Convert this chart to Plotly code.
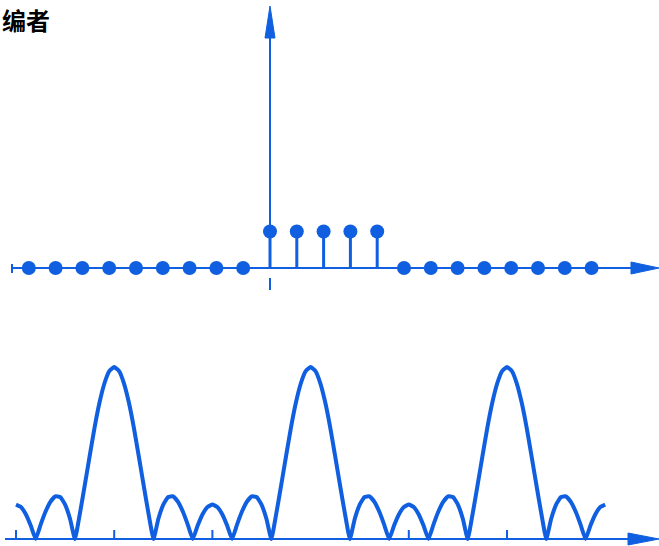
import plotly.graph_objects as go

# ---------------- data ----------------
# top: finite-length sequence x[n]
n_values = list(range(-9, 13))
x_values = [0, 0, 0, 0, 0, 0, 0, 0, 0,
            1, 1, 1, 1, 1,
            0, 0, 0, 0, 0, 0, 0, 0]

# bottom: magnitude spectrum |X(e^jw)| sampled every 0.05*pi, w given in units of pi
w_over_pi = [round(-3 + 0.05 * k, 2) for k in range(121)]
magnitude = [
    # -3 .. -2
    1.0, 0.93, 0.72, 0.39, 0, 0.41, 0.79, 1.08, 1.24, 1.22, 1.0, 0.59, 0, 0.73, 1.56, 2.41, 3.24, 3.96, 4.52, 4.88, 5.0,
    # -2 .. -1
    4.88, 4.52, 3.96, 3.24, 2.41, 1.56, 0.73, 0, 0.59, 1.0, 1.22, 1.24, 1.08, 0.79, 0.41, 0, 0.39, 0.72, 0.93, 1.0,
    # -1 .. 0
    0.93, 0.72, 0.39, 0, 0.41, 0.79, 1.08, 1.24, 1.22, 1.0, 0.59, 0, 0.73, 1.56, 2.41, 3.24, 3.96, 4.52, 4.88, 5.0,
    # 0 .. 1
    4.88, 4.52, 3.96, 3.24, 2.41, 1.56, 0.73, 0, 0.59, 1.0, 1.22, 1.24, 1.08, 0.79, 0.41, 0, 0.39, 0.72, 0.93, 1.0,
    # 1 .. 2
    0.93, 0.72, 0.39, 0, 0.41, 0.79, 1.08, 1.24, 1.22, 1.0, 0.59, 0, 0.73, 1.56, 2.41, 3.24, 3.96, 4.52, 4.88, 5.0,
    # 2 .. 3
    4.88, 4.52, 3.96, 3.24, 2.41, 1.56, 0.73, 0, 0.59, 1.0, 1.22, 1.24, 1.08, 0.79, 0.41, 0, 0.39, 0.72, 0.93, 1.0,
]
freq_ticks = [-3, -2, -1, 1, 2]

heading = "编者"

# ---------------- style / geometry ----------------
W, H = 659, 546
BLUE = "#0f5fe0"

# top panel scale (pixels)
T_ORIG_X, T_PPU_X = 270.0, 26.8       # px of n=0, px per sample
T_ORIG_Y, T_PPU_Y = 268.0, 36.5       # px of value 0, px per unit
T_TOP, T_BOT = 0.0, 300.0
# bottom panel scale (pixels)
B_ORIG_X, B_PPU_X = 310.6, 98.2       # px of w=0, px per pi
B_ORIG_Y, B_PPU_Y = 539.0, 34.4
B_TOP, B_BOT = 320.0, 546.0

t_xr = [(0 - T_ORIG_X) / T_PPU_X, (W - T_ORIG_X) / T_PPU_X]
t_yr = [-(T_BOT - T_ORIG_Y) / T_PPU_Y, (T_ORIG_Y - T_TOP) / T_PPU_Y]
b_xr = [(0 - B_ORIG_X) / B_PPU_X, (W - B_ORIG_X) / B_PPU_X]
b_yr = [-(B_BOT - B_ORIG_Y) / B_PPU_Y, (B_ORIG_Y - B_TOP) / B_PPU_Y]

def tx(px): return (px - T_ORIG_X) / T_PPU_X
def ty(py): return (T_ORIG_Y - py) / T_PPU_Y
def bx(px): return (px - B_ORIG_X) / B_PPU_X
def by(py): return (B_ORIG_Y - py) / B_PPU_Y

fig = go.Figure()

# stems
sx, sy = [], []
for n, v in zip(n_values, x_values):
    if v != 0:
        sx += [n, n, None]
        sy += [0, v, None]
fig.add_trace(go.Scatter(x=sx, y=sy, mode="lines",
                         line=dict(color=BLUE, width=3),
                         xaxis="x", yaxis="y", hoverinfo="skip"))
fig.add_trace(go.Scatter(x=n_values, y=x_values, mode="markers",
                         marker=dict(color=BLUE, size=14),
                         xaxis="x", yaxis="y"))

# spectrum
fig.add_trace(go.Scatter(x=w_over_pi, y=magnitude, mode="lines",
                         line=dict(color=BLUE, width=4, shape="spline", smoothing=0.4),
                         xaxis="x2", yaxis="y2"))

shapes = []
# top horizontal axis
shapes.append(dict(type="line", xref="x", yref="y", x0=tx(12), x1=tx(640), y0=0, y1=0,
                   line=dict(color=BLUE, width=2), layer="below"))
shapes.append(dict(type="line", xref="x", yref="y", x0=tx(12), x1=tx(12), y0=ty(264), y1=ty(273),
                   line=dict(color=BLUE, width=2), layer="below"))
shapes.append(dict(type="path", xref="x", yref="y",
                   path=f"M {tx(659)},0 L {tx(631)},{ty(T_ORIG_Y-6)} L {tx(631)},{ty(T_ORIG_Y+6)} Z",
                   fillcolor=BLUE, line=dict(color=BLUE, width=1)))
# top vertical axis
shapes.append(dict(type="line", xref="x", yref="y", x0=0, x1=0, y0=0, y1=ty(30),
                   line=dict(color=BLUE, width=2), layer="below"))
shapes.append(dict(type="path", xref="x", yref="y",
                   path=f"M 0,{ty(6)} L {tx(T_ORIG_X-5)},{ty(38)} L {tx(T_ORIG_X+5)},{ty(38)} Z",
                   fillcolor=BLUE, line=dict(color=BLUE, width=1)))
shapes.append(dict(type="line", xref="x", yref="y", x0=0, x1=0, y0=ty(278), y1=ty(290),
                   line=dict(color=BLUE, width=2), layer="below"))
# bottom axis
shapes.append(dict(type="line", xref="x2", yref="y2", x0=bx(5), x1=bx(635), y0=0, y1=0,
                   line=dict(color=BLUE, width=2), layer="below"))
shapes.append(dict(type="path", xref="x2", yref="y2",
                   path=f"M {bx(659)},0 L {bx(628)},{by(B_ORIG_Y-6)} L {bx(628)},{by(B_ORIG_Y+6)} Z",
                   fillcolor=BLUE, line=dict(color=BLUE, width=1)))
for t in freq_ticks:
    shapes.append(dict(type="line", xref="x2", yref="y2", x0=t, x1=t, y0=0, y1=by(530),
                       line=dict(color=BLUE, width=2), layer="below"))

fig.update_layout(
    width=W, height=H,
    margin=dict(l=0, r=0, t=0, b=0),
    paper_bgcolor="white", plot_bgcolor="white",
    showlegend=False,
    shapes=shapes,
    xaxis=dict(domain=[0, 1], range=t_xr, visible=False, fixedrange=True),
    yaxis=dict(domain=[1 - T_BOT / H, 1 - T_TOP / H], range=t_yr, visible=False, fixedrange=True),
    xaxis2=dict(domain=[0, 1], range=b_xr, visible=False, anchor="y2", fixedrange=True),
    yaxis2=dict(domain=[1 - B_BOT / H, 1 - B_TOP / H], range=b_yr, visible=False, anchor="x2", fixedrange=True),
    annotations=[dict(text=f"<b>{heading}</b>", xref="paper", yref="paper",
                      x=0, y=1, xanchor="left", yanchor="top",
                      showarrow=False,
                      font=dict(family="Noto Sans CJK SC", size=24, color="black"))],
)

fig.write_html("out.html",
               config={"displayModeBar": False},
               post_script="document.body.style.margin='0';document.body.style.padding='0';"
                           "document.body.style.overflow='hidden';")
